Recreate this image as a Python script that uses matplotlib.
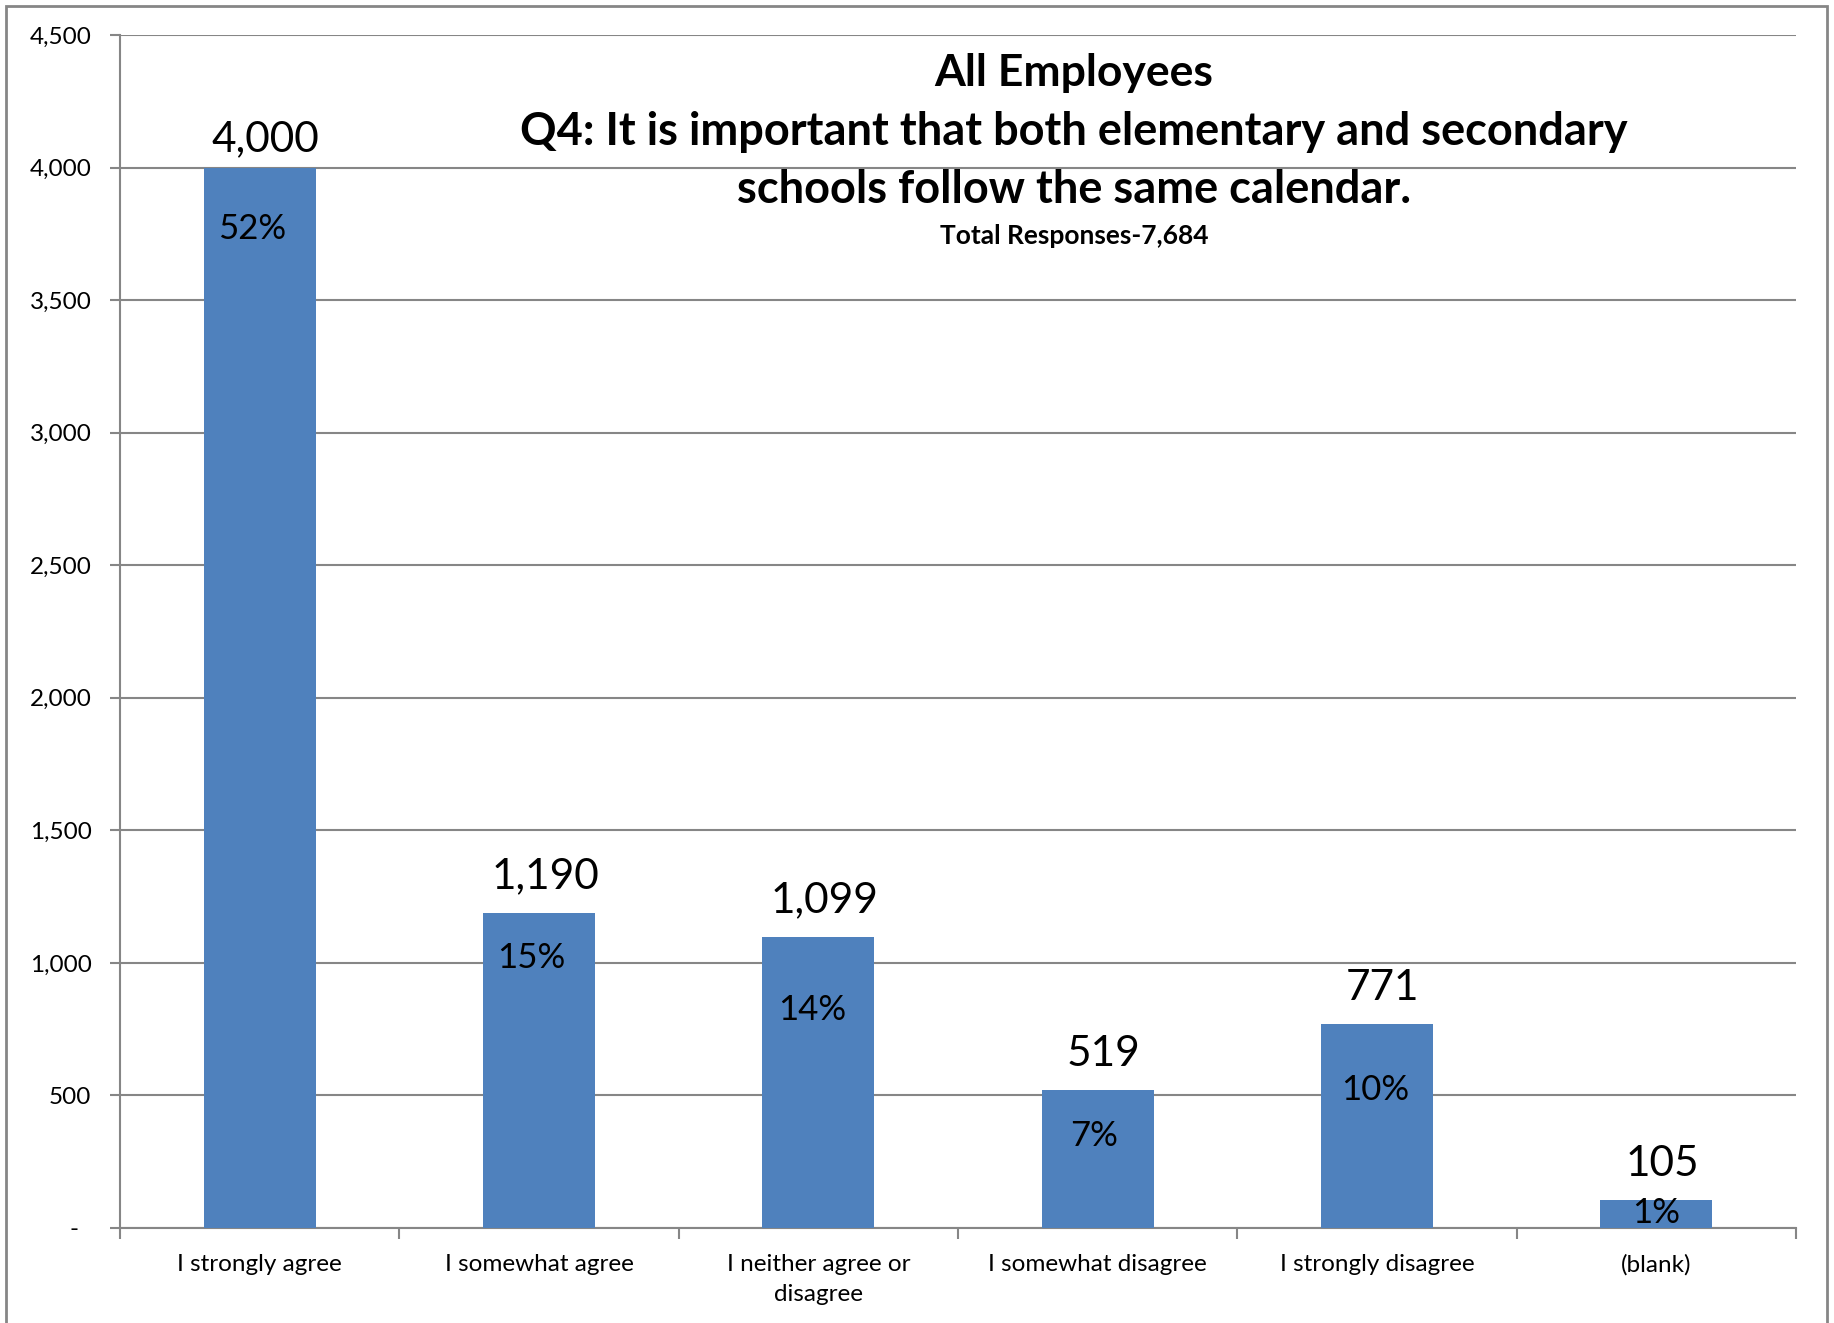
import numpy as np
import matplotlib.pyplot as plt
from matplotlib.patches import Rectangle
from matplotlib.ticker import FuncFormatter

plt.rcParams['font.family'] = ['Lato', 'DejaVu Sans']

categories = ['I strongly agree', 'I somewhat agree', 'I neither agree or\ndisagree',
              'I somewhat disagree', 'I strongly disagree', '(blank)']
counts = [4000, 1190, 1099, 519, 771, 105]
percents = ['52%', '15%', '14%', '7%', '10%', '1%']

# label placement relative to each bar top (pixels)
val_offsets = [(6, 28), (6, 36), (6, 36), (6, 36), (6, 36), (6, 36)]
pct_offsets = [(-8, -61), (-8, -45), (-6, -73), (-4, -46), (-2, -66), (0, -13)]

W, H = 1834, 1323
fig = plt.figure(figsize=(W / 100, H / 100), dpi=100)
ax = fig.add_axes([120 / W, 1 - 1228 / H, (1796 - 120) / W, (1228 - 35) / H])

bar_color = '#4F81BD'
grid_color = '#868686'

x = np.arange(len(categories))
ax.bar(x, counts, width=0.4, color=bar_color, zorder=3)

ax.set_xlim(-0.5, len(categories) - 0.5)
ax.set_ylim(0, 4500)
ax.set_yticks(np.arange(0, 4501, 500))
ax.yaxis.set_major_formatter(FuncFormatter(lambda v, p: '-  ' if v == 0 else f'{v:,.0f}'))
ax.grid(axis='y', color=grid_color, lw=1.5, zorder=0)
ax.set_xticks(np.arange(-0.5, len(categories), 1.0))
ax.set_xticklabels([])
ax.set_xticks(x, minor=True)
ax.set_xticklabels(categories, minor=True, fontsize=17.5, linespacing=1.5)
ax.tick_params(axis='x', which='minor', length=0, pad=19)
ax.tick_params(axis='x', which='major', length=8, width=1.5, color=grid_color)
ax.tick_params(axis='y', length=7, width=1.5, color=grid_color, labelsize=17.5, pad=13.5)

for s in ['top', 'right']:
    ax.spines[s].set_visible(False)
for s in ['left', 'bottom']:
    ax.spines[s].set_color(grid_color)
    ax.spines[s].set_linewidth(1.5)

for xi, c, p, voff, poff in zip(x, counts, percents, val_offsets, pct_offsets):
    ax.annotate(f'{c:,}', (xi, c), xytext=voff, textcoords='offset pixels',
                ha='center', va='center', fontsize=30.5)
    ax.annotate(p, (xi, c), xytext=poff, textcoords='offset pixels',
                ha='center', va='center', fontsize=25)

tx = 1074 / W
fig.text(tx, 1 - 73 / H, 'All Employees', ha='center', va='center', fontsize=32, fontweight='bold')
fig.text(tx, 1 - 132 / H, 'Q4: It is important that both elementary and secondary',
         ha='center', va='center', fontsize=32.5, fontweight='bold')
fig.text(tx, 1 - 190 / H, 'schools follow the same calendar.',
         ha='center', va='center', fontsize=32.5, fontweight='bold')
fig.text(tx, 1 - 236 / H, 'Total Responses-7,684', ha='center', va='center',
         fontsize=19, fontweight='bold')

fig.add_artist(Rectangle((6 / W, -0.05), (1827 - 6) / W, 1.05 - 6 / H,
                         transform=fig.transFigure, fill=False,
                         edgecolor=grid_color, lw=2))

fig.savefig('out.png', dpi=100)
